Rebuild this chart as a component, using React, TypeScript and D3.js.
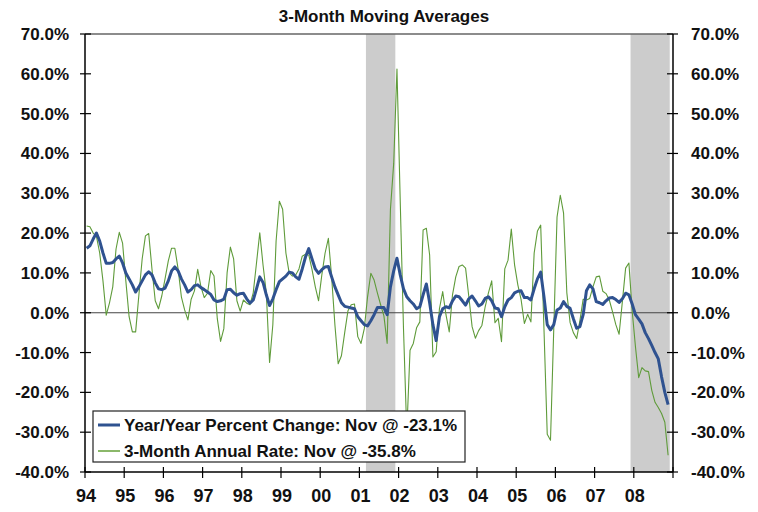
import React from 'react';
import * as d3 from 'd3';

// monthly, Jan 1994 .. Nov 2008
const yearLabels = ['94', '95', '96', '97', '98', '99', '00', '01', '02', '03', '04', '05', '06', '07', '08'];
const yTicks = [70, 60, 50, 40, 30, 20, 10, 0, -10, -20, -30, -40];

const yoy = [
  16.2, 16.8, 18.5, 20.0, 18.0, 15.0, 12.4, 12.4, 12.6, 13.5, 14.2, 12.5,
  10.0, 8.5, 7.0, 5.2, 6.5, 8.0, 9.5, 10.3, 9.5, 7.5, 6.0, 5.8,
  6.2, 8.0, 10.5, 11.5, 10.5, 8.5, 7.0, 5.2, 5.8, 6.8, 7.0, 6.3,
  5.8, 5.2, 4.6, 3.2, 2.8, 3.0, 3.4, 5.8, 5.9, 5.0, 4.4, 4.8,
  4.9, 3.5, 2.4, 3.2, 6.0, 9.0, 7.6, 4.5, 1.8, 3.5, 5.8, 7.8,
  8.5, 9.2, 10.2, 10.0, 9.0, 8.4, 11.0, 14.0, 16.1, 13.5, 11.0, 9.9,
  10.8, 11.5, 11.6, 9.0, 6.5, 4.5, 2.5, 1.6, 1.4, 1.2, 1.0, -1.0,
  -2.0, -3.0, -3.3, -2.0, -0.5, 1.3, 1.3, 1.3, -0.5, 6.5, 10.5, 13.7,
  9.5, 6.0, 4.0, 3.0, 2.2, 1.0, 1.5, 4.5, 7.2, 2.5, -3.0, -7.0,
  -1.0, 1.0, 1.5, 1.2, 3.0, 4.2, 4.0, 3.0, 1.9, 3.5, 4.2, 3.0,
  1.7, 2.2, 3.6, 4.0, 3.0, 1.2, 1.0, -1.0, 1.5, 3.2, 3.8, 5.0,
  5.4, 5.5, 3.8, 3.8, 3.2, 6.0, 8.5, 10.2, 4.0, -3.0, -4.3, -3.0,
  0.7, 1.2, 2.8, 1.6, 1.1, -1.5, -3.9, -3.5, -0.5, 5.5, 7.0, 6.0,
  2.8, 2.5, 2.1, 3.0, 3.7, 3.8, 3.3, 2.6, 3.5, 4.9, 4.5, 2.2,
  -0.5, -1.6, -2.8, -5.0, -6.5, -8.2, -10.0, -11.6, -16.1, -20.0, -23.1
];

const annRate = [
  21.8, 21.6, 20.0, 19.2, 15.0, 8.0, -0.6, 2.5, 6.5, 16.0, 20.2, 17.5,
  8.0, -1.0, -4.8, -4.8, 4.5, 13.5, 19.3, 19.9, 11.0, 3.0, 1.0, 4.2,
  8.5, 13.0, 16.2, 16.2, 11.0, 4.0, 0.7, -1.8, 3.4, 5.5, 10.9, 6.5,
  3.8, 4.9, 10.6, 9.2, -1.5, -7.2, -4.0, 10.0, 16.5, 13.5, 3.0, 0.4,
  3.2, 2.4, 2.0, 5.0, 12.5, 20.1, 12.0, 5.0, -12.5, -3.0, 18.0, 28.0,
  26.0, 15.0, 10.0, 9.2, 9.5, 11.0, 14.2, 14.7, 14.5, 10.8, 6.5, 3.0,
  9.5, 15.0, 18.7, 9.0, -3.0, -12.8, -10.8, -5.0, 0.5, 2.0, 2.2, -6.0,
  -7.7, -4.0, 4.0, 9.9, 8.2, 5.0, 2.0, -0.8, -7.7, 26.0, 37.5, 61.2,
  28.0, -4.0, -30.0, -9.4, -7.7, -3.8, -2.3, 20.8, 21.2, 14.5, -11.1, -9.8,
  1.0, 5.3, -0.5, -4.8, 4.5, 9.0, 11.6, 12.0, 11.2, 4.0, -3.5, -6.4,
  -4.5, -3.2, 1.5, 5.0, 8.0, -2.5, -1.4, -7.3, 11.0, 13.2, 21.0, 12.0,
  7.0, 3.3, -2.7, -0.4, -2.3, 15.0, 20.5, 22.0, -4.0, -30.5, -32.0, -4.0,
  24.0, 29.5, 25.0, 5.0, -2.5, -5.0, -6.5, -2.0, 3.4, 3.2, 3.6, 6.5,
  9.0, 9.2, 5.4, 4.8, 3.2, 0.2, -3.0, -5.4, 2.8, 11.2, 12.5, 0.5,
  -8.5, -16.3, -13.8, -14.6, -14.8, -19.5, -22.5, -23.8, -25.3, -27.5, -35.8
];

// recession shading (start, end) in fractional years
const recessions = [[2001 + 2 / 12, 2001 + 11 / 12], [2007 + 11 / 12, 2008 + 11 / 12]];

const legendItems = [
  { label: 'Year/Year Percent Change: Nov @ -23.1%', color: '#2f5290', width: 3 },
  { label: '3-Month Annual Rate: Nov @ -35.8%', color: '#8bb86a', width: 2 }
];

const font = '"Liberation Sans", Arial, sans-serif';

export default function App() {
  const width = 758;
  const height = 512;
  const left = 85, right = 673, top = 34, bottom = 472;

  const x = d3.scaleLinear().domain([1994, 2009]).range([left, right]);
  const y = d3.scaleLinear().domain([-40, 70]).range([bottom, top]);
  const t = (i: number) => 1994 + (i + 0.5) / 12;

  const line = d3.line<number>()
    .x((d, i) => x(t(i)))
    .y(d => y(d));

  return (
    <svg width={width} height={height} style={{ position: 'absolute', left: 0, top: 0, background: '#fff' }}
      fontFamily={font}>
      <text x={384} y={22} textAnchor="middle" fontSize={17} fontWeight="bold" fill="#111">3-Month Moving Averages</text>

      {recessions.map(([a, b], i) => (
        <rect key={i} x={x(a)} y={top} width={x(b) - x(a)} height={bottom - top} fill="#cccccc" />
      ))}

      {/* frame */}
      <line x1={left} x2={right} y1={top} y2={top} stroke="#666" strokeWidth={1.5} />
      <line x1={left} x2={right} y1={y(0)} y2={y(0)} stroke="#444" strokeWidth={1.2} />

      <path d={line(annRate) || ''} fill="none" stroke="#5f9b3a" strokeWidth={1.1} strokeLinejoin="round" />
      <path d={line(yoy) || ''} fill="none" stroke="#2f5290" strokeWidth={3} strokeLinejoin="round" />

      <line x1={left} x2={left} y1={top} y2={bottom} stroke="#000" strokeWidth={1.5} />
      <line x1={right} x2={right} y1={top} y2={bottom} stroke="#000" strokeWidth={1.5} />
      <line x1={left} x2={right} y1={bottom} y2={bottom} stroke="#000" strokeWidth={1.5} />

      {yTicks.map(v => (
        <g key={v}>
          <line x1={left - 5} x2={left + 6} y1={y(v)} y2={y(v)} stroke="#000" strokeWidth={1.2} />
          <line x1={right - 6} x2={right + 5} y1={y(v)} y2={y(v)} stroke="#000" strokeWidth={1.2} />
          <text x={69} y={y(v) + 6} textAnchor="end" fontSize={17} fontWeight="bold" fill="#111">{v.toFixed(1)}%</text>
          <text x={691} y={y(v) + 6} textAnchor="start" fontSize={17} fontWeight="bold" fill="#111">{v.toFixed(1)}%</text>
        </g>
      ))}

      {yearLabels.map((lab, i) => (
        <g key={lab}>
          <line x1={x(1994 + i)} x2={x(1994 + i)} y1={bottom - 5} y2={bottom + 6} stroke="#000" strokeWidth={1.2} />
          <text x={x(1994 + i) + 1} y={502} textAnchor="middle" fontSize={18} fontWeight="bold" fill="#111">{lab}</text>
        </g>
      ))}
      <line x1={right} x2={right} y1={bottom - 5} y2={bottom + 6} stroke="#000" strokeWidth={1.2} />

      <g transform="translate(93,411)">
        <rect x={0} y={0} width={372} height={51} fill="#fff" stroke="#222" strokeWidth={1.2} />
        {legendItems.map((d, i) => (
          <g key={d.label} transform={`translate(0,${14 + i * 26})`}>
            <line x1={5} x2={27} y1={0} y2={0} stroke={d.color} strokeWidth={d.width} />
            <text x={31} y={6} fontSize={17} fontWeight="bold" fill="#111">{d.label}</text>
          </g>
        ))}
      </g>
    </svg>
  );
}
